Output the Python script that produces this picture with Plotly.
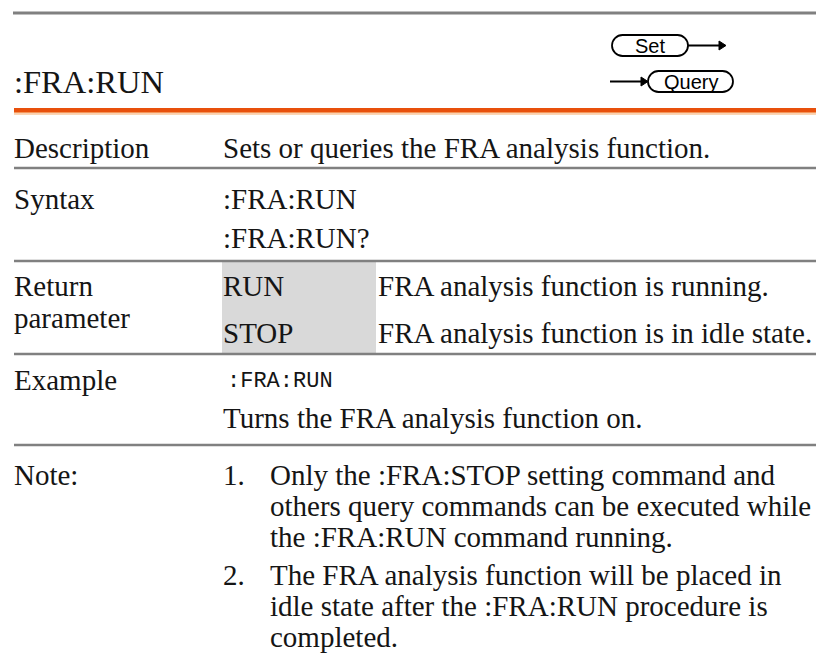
import plotly.graph_objects as go

# ---------------- content ----------------
heading = ":FRA:RUN"
set_label = "Set"
query_label = "Query"
row_labels = ["Description", "Syntax", "Return", "parameter", "Example", "Note:"]
description_text = ["Sets or queries the FRA analysis function."]
syntax_lines = [":FRA:RUN", ":FRA:RUN?"]
return_params = ["RUN", "STOP"]
return_meanings = ["FRA analysis function is running.",
                   "FRA analysis function is in idle state."]
example_command = [":FRA:RUN"]
example_text = ["Turns the FRA analysis function on."]
note_numbers = ["1.", "2."]
note_lines = [
    ["Only the :FRA:STOP setting command and",
     "others query commands can be executed while",
     "the :FRA:RUN command running."],
    ["The FRA analysis function will be placed in",
     "idle state after the :FRA:RUN procedure is",
     "completed."],
]

# ---------------- layout constants ----------------
W, H = 824, 657
SERIF = "Liberation Serif"
SANS = "Liberation Sans"
MONO = "Liberation Mono"
BODY = 29
INK = "#151515"
RULE = "#808080"
X_LAB, X_C2, X_C3, X_NOTE = 4, 213, 368, 260

fig = go.Figure()
fig.add_trace(go.Scatter(x=[0, W], y=[0, H], mode="markers",
                         marker=dict(opacity=0), hoverinfo="skip", showlegend=False))

ann = []
def txt(x, base, s, size=BODY, family=SERIF, color=INK, anchor="left"):
    ann.append(dict(x=x, y=base - 0.34 * size, text=s, showarrow=False,
                    xanchor=anchor, yanchor="middle", xref="x", yref="y",
                    font=dict(family=family, size=size, color=color)))

shapes = []
def hline(y, w=2.5, x0=6, x1=820, color=RULE):
    shapes.append(dict(type="line", x0=x0, x1=x1, y0=y, y1=y, xref="x", yref="y",
                       line=dict(color=color, width=w)))
def rect(x0, y0, x1, y1, color, layer="below"):
    shapes.append(dict(type="rect", x0=x0, x1=x1, y0=y0, y1=y1, xref="x", yref="y",
                       fillcolor=color, line=dict(width=0), layer=layer))
def pill(x0, y0, x1, y1):
    r = (y1 - y0) / 2
    k = 0.5523 * r
    ym = (y0 + y1) / 2
    p = (f"M {x0+r},{y0} L {x1-r},{y0} C {x1-r+k},{y0} {x1},{ym-k} {x1},{ym} "
         f"C {x1},{ym+k} {x1-r+k},{y1} {x1-r},{y1} L {x0+r},{y1} "
         f"C {x0+r-k},{y1} {x0},{ym+k} {x0},{ym} C {x0},{ym-k} {x0+r-k},{y0} {x0+r},{y0} Z")
    shapes.append(dict(type="path", path=p, xref="x", yref="y",
                       fillcolor="white", line=dict(color="black", width=1.8), layer="below"))
def arrow(x0, x1, y):
    shapes.append(dict(type="line", x0=x0, x1=x1 - 5, y0=y, y1=y, xref="x", yref="y",
                       line=dict(color="black", width=2)))
    p = f"M {x1-7},{y-4.5} L {x1},{y} L {x1-7},{y+4.5} Z"
    shapes.append(dict(type="path", path=p, xref="x", yref="y",
                       fillcolor="black", line=dict(color="black", width=1)))

# header
hline(5, w=3, x0=5, x1=820)
txt(4, 85, heading, size=32.5)
pill(604, 27, 680, 48)
arrow(680, 718, 37.5)
txt(642, 44.5, set_label, size=20, family=SANS, color="black", anchor="center")
arrow(602, 640, 73.5)
pill(640, 63, 725, 84)
txt(682.5, 80.5, query_label, size=20, family=SANS, color="black", anchor="center")
rect(6, 100, 820, 104, "#e8500c", layer="above")
rect(6, 104, 820, 105.5, "#f4965a", layer="above")
rect(6, 105.5, 820, 107, "#fcd6b4", layer="above")

# Description
txt(X_LAB, 150, row_labels[0])
txt(X_C2, 150, description_text[0])
hline(160)

# Syntax
txt(X_LAB, 201, row_labels[1])
txt(X_C2, 201, syntax_lines[0])
txt(X_C2, 240, syntax_lines[1])
hline(253)

# Return parameter
rect(214, 254, 368, 345, "#d9d9d9")
txt(X_LAB, 288, row_labels[2])
txt(X_LAB, 320, row_labels[3])
txt(X_C2, 288, return_params[0])
txt(X_C3, 288, return_meanings[0])
txt(X_C2, 335, return_params[1])
txt(X_C3, 335, return_meanings[1])
hline(346)

# Example
txt(X_LAB, 382, row_labels[4])
txt(X_C2 + 4, 381, example_command[0], size=22, family=MONO)
txt(X_C2, 420, example_text[0])
hline(437)

# Note
txt(X_LAB, 477, row_labels[5])
bases = [[477, 508, 539], [577, 608, 639]]
for num, lines, bs in zip(note_numbers, note_lines, bases):
    txt(X_C2, bs[0], num)
    for line, b in zip(lines, bs):
        txt(X_NOTE, b, line)

fig.update_layout(
    width=W, height=H, margin=dict(l=0, r=0, t=0, b=0),
    paper_bgcolor="white", plot_bgcolor="white",
    xaxis=dict(range=[0, W], visible=False, fixedrange=True),
    yaxis=dict(range=[H, 0], visible=False, fixedrange=True),
    shapes=shapes, annotations=ann, showlegend=False,
)
fig.write_html("out.html")
